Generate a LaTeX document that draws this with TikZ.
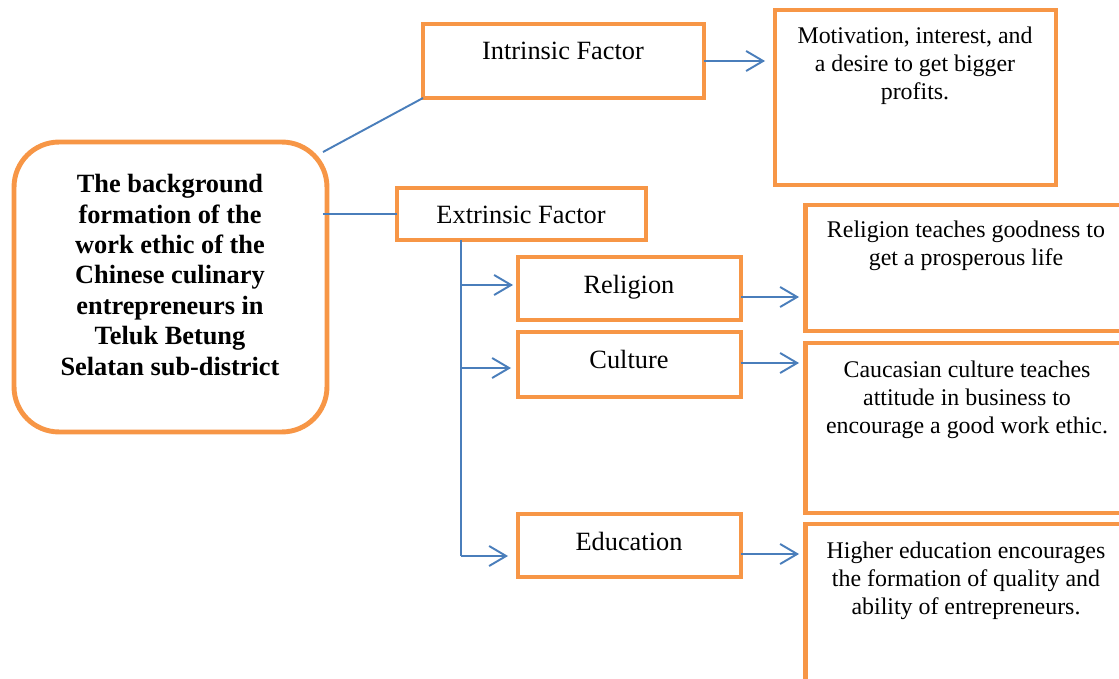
\documentclass[tikz,border=0pt]{standalone}
\usepackage{fontspec}
\setmainfont{Liberation Serif}
\usepackage{tikz}
\usetikzlibrary{arrows.meta,positioning,calc}
\definecolor{boxorange}{RGB}{247,150,70}
\definecolor{linkblue}{RGB}{74,126,187}

\begin{document}
\begin{tikzpicture}[
    x=0.02cm, y=-0.02cm,
    framebox/.style={draw=boxorange, line width=2.8pt, fill=white, outer sep=0pt,
        inner sep=0pt, minimum width=#1},
    mainbox/.style={framebox=6.26cm, rounded corners=0.9cm, minimum height=5.8cm},
    factlbl/.style={font=\fontsize{15}{17}\selectfont, inner sep=0pt, anchor=base},
    desclbl/.style={font=\fontsize{13.6}{15.9}\selectfont, inner sep=0pt, anchor=north,
        align=center},
    mainlbl/.style={font=\fontsize{15}{17.3}\selectfont\bfseries, inner sep=0pt,
        anchor=north, align=center},
    conn/.style={draw=linkblue, line width=1.1pt},
    arrw/.style={conn, -{Straight Barb[length=0.34cm, width=0.4cm]}},
]
\clip (0,0) rectangle (1119,679);

% === MAIN BOX ===
\node[mainbox] (main) at (170.5, 287) {};
\node[mainlbl] (main-t) at (170, 174) {The background\\formation of the\\work ethic of the\\Chinese culinary\\entrepreneurs in\\Teluk Betung\\Selatan sub-district};

% === INTRINSIC ===
\node[framebox=5.62cm, minimum height=1.48cm] (intr) at (563.5, 61) {};
\node[factlbl] (intr-t) at (563, 60) {Intrinsic Factor};
\node[framebox=5.62cm, minimum height=3.5cm] (moti) at (915.5, 97.5) {};
\node[desclbl] (moti-t) at (915, 26.7) {Motivation, interest, and\\a desire to get bigger\\profits.};

% === EXTRINSIC ===
\node[framebox=4.98cm, minimum height=1.04cm] (extr) at (521.5, 214) {};
\node[factlbl] (extr-t) at (521, 223) {Extrinsic Factor};

\node[framebox=4.46cm, minimum height=1.26cm] (reli) at (629.5, 288.5) {};
\node[factlbl] (reli-t) at (629, 293) {Religion};
\node[framebox=4.46cm, minimum height=1.3cm] (cult) at (629.5, 364.5) {};
\node[factlbl] (cult-t) at (629, 368) {Culture};
\node[framebox=4.46cm, minimum height=1.26cm] (educ) at (629.5, 545.5) {};
\node[factlbl] (educ-t) at (629, 550) {Education};

% descriptions (run off the right edge)
\node[framebox=6.44cm, minimum height=2.52cm] (rdesc) at (966, 268) {};
\node[desclbl] (rdesc-t) at (966, 220.7) {Religion teaches goodness to\\get a prosperous life};
\node[framebox=6.44cm, minimum height=3.4cm] (cdesc) at (966, 428) {};
\node[desclbl] (cdesc-t) at (967, 360.7) {Caucasian culture teaches\\attitude in business to\\encourage a good work ethic.};
\node[framebox=6.44cm, minimum height=3.52cm] (edesc) at (966, 612) {};
\node[desclbl] (edesc-t) at (966, 541.7) {Higher education encourages\\the formation of quality and\\ability of entrepreneurs.};

% === CONNECTORS ===
\draw[conn] ($(main.north east)+(-4,10)$) -- (intr.south west);
\draw[conn] ($(main.east |- extr.west)+(-4,0)$) -- (extr.west);
\draw[arrw, shorten >=0.2cm] (intr.east) -- (intr.east -| moti.west);

% trunk under Extrinsic Factor
\coordinate (trunk) at ($(extr.south west)+(64,0)$);
\coordinate (r-in) at ($(reli.west)+(0,-3.5)$);
\coordinate (c-in) at ($(cult.west)+(0,3.5)$);
\coordinate (e-in) at ($(educ.west)+(0,10.5)$);
\draw[conn] (trunk) -- (trunk |- e-in);
\draw[arrw, shorten >=0.1cm] (trunk |- r-in) -- (r-in);
\draw[arrw, shorten >=0.14cm] (trunk |- c-in) -- (c-in);
\draw[arrw, shorten >=0.2cm] (trunk |- e-in) -- (e-in);

% factors -> descriptions
\coordinate (r-out) at ($(reli.east)+(0,8.5)$);
\coordinate (c-out) at ($(cult.east)+(0,-1.5)$);
\coordinate (e-out) at ($(educ.east)+(0,8.5)$);
\draw[arrw, shorten >=0.12cm] (r-out) -- (r-out -| rdesc.west);
\draw[arrw, shorten >=0.12cm] (c-out) -- (c-out -| cdesc.west);
\draw[arrw, shorten >=0.12cm] (e-out) -- (e-out -| edesc.west);

\end{tikzpicture}
\end{document}
